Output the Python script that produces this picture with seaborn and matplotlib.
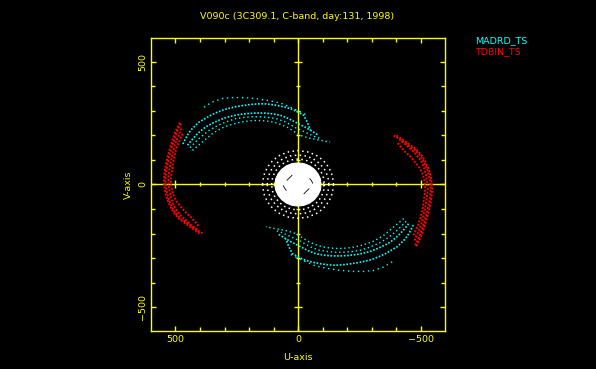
import numpy as np
import pandas as pd
import seaborn as sns
import matplotlib.pyplot as plt

title = 'V090c (3C309.1, C-band, day:131, 1998)'
baselines = ['MADRD_TS', 'TDBIN_TS']

# MADRD_TS tracks, upper half only (the lower half is the conjugate -u,-v)
madrd_outer = [(384, 315), (350, 336), (309, 350), (268, 354), (221, 354), (174, 350),
               (126, 343), (72, 332), (18, 309), (-37, 282)]
madrd_main = [(470, 165), (452, 200), (438, 221), (421, 238), (404, 254), (380, 268),
              (356, 282), (330, 294), (302, 305), (275, 312), (248, 318), (221, 322),
              (194, 326), (167, 328), (140, 329), (112, 326), (85, 322), (58, 316),
              (31, 309), (4, 297), (-23, 282), (-38, 253), (-50, 221)]
madrd_mid = [(451, 160), (435, 180), (417, 200), (398, 218), (377, 234), (354, 247),
             (329, 259), (302, 270), (275, 278), (241, 285), (207, 289), (174, 291),
             (140, 291), (106, 288), (72, 282), (42, 270), (11, 254), (-10, 243),
             (-30, 233), (-57, 217), (-84, 200)]
madrd_mid2 = [(441, 150), (423, 168), (404, 187), (384, 204), (363, 220), (340, 234),
              (315, 246), (288, 257), (255, 268), (221, 273), (187, 276), (153, 276),
              (119, 273), (85, 267), (57, 257), (30, 243), (8, 230), (-15, 220),
              (-40, 208), (-68, 195), (-95, 186)]
madrd_inner = [(431, 139), (411, 156), (390, 173), (370, 190), (350, 207), (326, 221),
               (302, 234), (269, 245), (235, 254), (201, 259), (167, 261), (133, 259),
               (99, 254), (72, 245), (45, 234), (24, 221), (4, 207), (-20, 196),
               (-50, 188), (-80, 182), (-104, 178), (-131, 172)]

# TDBIN_TS tracks, left half (right half is the conjugate)
tdbin_edge = [(482, 252), (499, 218), (512, 183), (523, 148), (532, 113), (540, 78),
              (545, 45), (547, 18), (545, -12), (540, -40), (531, -68), (518, -96),
              (502, -122), (481, -144), (454, -163), (425, -184), (396, -203)]
tdbin_outer = [(478, 248), (494, 214), (506, 180), (517, 146), (526, 112), (534, 78),
               (539, 45), (541, 18), (539, -10), (534, -37), (526, -64), (514, -91),
               (499, -118), (478, -140), (451, -158), (422, -180), (390, -199)]
tdbin_mid = [(475, 228), (490, 194), (503, 160), (512, 126), (519, 92), (525, 58),
             (529, 25), (528, -2), (524, -30), (517, -57), (508, -85), (493, -108),
             (475, -130), (453, -150), (430, -170), (412, -183)]
tdbin_inner = [(471, 207), (486, 173), (499, 139), (507, 105), (512, 72), (517, 38),
               (519, 4), (514, -23), (506, -50), (494, -71), (478, -91), (460, -112),
               (438, -132), (420, -152), (404, -172)]

# short baselines around the origin (upper halves)
ring_outer = [(145, 0), (140, 36), (126, 69), (103, 98), (73, 120), (38, 133), (0, 138),
              (-38, 133), (-73, 120), (-103, 98), (-126, 69), (-140, 36), (-145, 0)]
ring_mid = [(126, 0), (122, 31), (109, 60), (89, 85), (63, 104), (33, 116), (0, 120),
            (-33, 116), (-63, 104), (-89, 85), (-109, 60), (-122, 31), (-126, 0)]
ring_inner = [(108, 0), (104, 27), (94, 52), (76, 74), (54, 90), (28, 100), (0, 104),
              (-28, 100), (-54, 90), (-76, 74), (-94, 52), (-104, 27), (-108, 0)]
core_edge = [(94, 0), (91, 23), (81, 44), (66, 62), (47, 76), (24, 85), (0, 88),
             (-24, 85), (-47, 76), (-66, 62), (-81, 44), (-91, 23), (-94, 0)]
core_gaps = [[(45, 17), (34, 28), (24, 38)], [(60, -5), (55, -15), (48, -24)]]


def track_frame(tracks, name):
    rows = []
    for i, pts in enumerate(tracks):
        for u, v in pts:
            rows.append((name, f'{name}{i}', u, v))
        for u, v in pts:
            rows.append((name, f'{name}{i}*', -u, -v))
    return pd.DataFrame(rows, columns=['baseline', 'unit', 'u', 'v'])


sns.set_theme(style='dark', rc={'axes.facecolor': 'black', 'figure.facecolor': 'black',
                                'axes.grid': False})
plt.rcParams['font.family'] = ['DejaVu Sans']

YEL = '#ffff00'
fig = plt.figure(figsize=(5.96, 3.69), dpi=100, facecolor='black')
ax = fig.add_axes([0.2529, 0.1022, 0.4943, 0.7957], facecolor='black')


def draw(df, color, dash, lw, z=3):
    sns.lineplot(data=df, x='u', y='v', units='unit', estimator=None, sort=False,
                 color=color, linestyle=(0, dash), linewidth=lw, legend=False,
                 ax=ax, zorder=z)


# crosshair through the origin
ax.axhline(0, color=YEL, lw=1.0, zorder=1)
ax.axvline(0, color=YEL, lw=1.0, zorder=1)
minor = [t for t in range(-400, 500, 100) if t != 0]
ax.plot(np.zeros(len(minor)), minor, ls='none', marker='_', ms=3.4, mew=1.0, color=YEL, zorder=1)
ax.plot(minor, np.zeros(len(minor)), ls='none', marker='|', ms=3.4, mew=1.0, color=YEL, zorder=1)
ax.plot([0, 0], [-500, 500], ls='none', marker='_', ms=6.2, mew=1.0, color=YEL, zorder=1)
ax.plot([-500, 500], [0, 0], ls='none', marker='|', ms=6.2, mew=1.0, color=YEL, zorder=1)

# data
draw(track_frame([madrd_outer], 'c_out'), '#00ffff', (1, 2.6), 1.0)
draw(track_frame([madrd_main, madrd_mid], 'c'), '#00ffff', (1, 1.0), 1.2)
draw(track_frame([madrd_mid2, madrd_inner], 'c_in'), '#00ffff', (1, 2.0), 1.0)
draw(track_frame([tdbin_edge, tdbin_outer, tdbin_mid, tdbin_inner], 'r'), '#ff0000', (1, 0.8), 1.4)
draw(track_frame([ring_outer, ring_mid, ring_inner], 'w'), 'white', (1, 2.2), 1.1)

core_u = [u for u, v in core_edge] + [-u for u, v in core_edge]
core_v = [v for u, v in core_edge] + [-v for u, v in core_edge]
ax.fill(core_u, core_v, color='white', lw=0.8, ec='white', zorder=4)
gaps = core_gaps + [[(-u, -v) for u, v in g] for g in core_gaps]
for g in gaps:
    ax.plot([p[0] for p in g], [p[1] for p in g], color='black', lw=0.6, zorder=5)

ax.set_xlim(601, -601)
ax.set_ylim(-598, 598)
ax.set_xticks([500, 0, -500])
ax.set_xticklabels(['500', '0', '\u2212500'])
ax.set_yticks([-500, 0, 500])
ax.set_yticklabels(['\u2212500', '0', '500'])
ax.set_xticks(range(-500, 600, 100), minor=True)
ax.set_yticks(range(-500, 600, 100), minor=True)
ax.set_xlabel('')
ax.set_ylabel('')
for s in ax.spines.values():
    s.set_color(YEL)
    s.set_linewidth(1.0)
    s.set_visible(True)
ax.tick_params(which='both', direction='in', color=YEL, width=1.0,
               top=True, right=True, bottom=True, left=True, labelsize=6.8, labelcolor=YEL)
ax.tick_params(which='major', length=3.6, pad=2.5)
ax.tick_params(which='minor', length=3.0)
for lab in ax.get_yticklabels():
    lab.set_rotation(90)
    lab.set_va('center')

fig.text(0.499, 1 - 16.5 / 369, title, ha='center', va='center', color=YEL, fontsize=6.8)
fig.text(0.5, 1 - 358 / 369, 'U-axis', ha='center', va='center', color=YEL, fontsize=6.8)
fig.text(128 / 596, 1 - 185 / 369, 'V-axis', ha='center', va='center', color=YEL,
         fontsize=6.8, rotation=90)
fig.text(475 / 596, 1 - 41 / 369, baselines[0], ha='left', va='center', color='#00ffff', fontsize=6.8)
fig.text(475 / 596, 1 - 52 / 369, baselines[1], ha='left', va='center', color='#ff0000', fontsize=6.8)

fig.savefig('out.png', dpi=100, facecolor='black')
